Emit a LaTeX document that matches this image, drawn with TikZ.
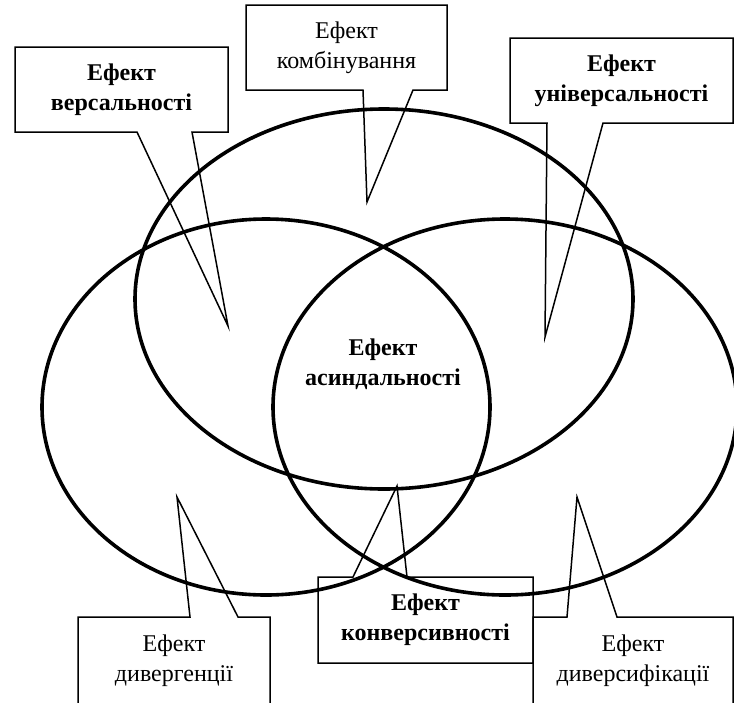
\documentclass[tikz,border=0pt]{standalone}
\usepackage{fontspec}
\setmainfont{Liberation Serif}
\usepackage{tikz}

\begin{document}
\begin{tikzpicture}[x=1pt, y=-1pt,
    ring/.style={line width=3.6pt},
    callout/.style={line width=1.5pt},
    label/.style={align=center, outer sep=0pt, inner sep=0pt,
        font=\fontsize{24}{30}\selectfont},
    boldlabel/.style={label, font=\fontsize{24}{30}\selectfont\bfseries}]
    \useasboundingbox (0,0) rectangle (734,702);
    \clip (0,0) rectangle (734,702);

    % text boxes
    \node[boldlabel, minimum width=213pt, minimum height=85pt] (vers) at (121.5,89.5) {Ефект\\версальності};
    \node[label, minimum width=201pt, minimum height=85pt] (komb) at (346.5,47.5) {Ефект\\комбінування};
    \node[boldlabel, minimum width=223pt, minimum height=85pt] (univ) at (621.5,80.5) {Ефект\\універсальності};
    \node[label, minimum width=192pt, minimum height=87pt] (diverg) at (174,660.5) {Ефект\\дивергенції};
    \node[boldlabel, minimum width=215pt, minimum height=86pt] (konv) at (425.5,620) {Ефект\\конверсивності};
    \node[label, minimum width=200pt, minimum height=87pt] (divers) at (633,660.5) {Ефект\\диверсифікації};
    \node[boldlabel] (asind) at (383,364) {Ефект\\асиндальності};

    % pointer tips
    \coordinate (versTip) at (228,326);
    \coordinate (kombTip) at (367,202);
    \coordinate (univTip) at (545,337);
    \coordinate (divergTip) at (177,497);
    \coordinate (konvTip) at (397,486);
    \coordinate (diversTip) at (577,497);

    % callouts
    \draw[callout] (vers.north west) -- (vers.north east) -- (vers.south east)
        -- (192,0 |- vers.south) -- (versTip) -- (137,0 |- vers.south) -- (vers.south west) -- cycle;
    \draw[callout] (komb.north west) -- (komb.north east) -- (komb.south east)
        -- (413,0 |- komb.south) -- (kombTip) -- (363,0 |- komb.south) -- (komb.south west) -- cycle;
    \draw[callout] (univ.north west) -- (univ.north east) -- (univ.south east)
        -- (603,0 |- univ.south) -- (univTip) -- (547,0 |- univ.south) -- (univ.south west) -- cycle;
    \draw[callout] (diverg.south west) -- (diverg.north west) -- (190,0 |- diverg.north)
        -- (divergTip) -- (238,0 |- diverg.north) -- (diverg.north east) -- (diverg.south east) -- cycle;
    \draw[callout] (konv.south west) -- (konv.north west) -- (353,0 |- konv.north)
        -- (konvTip) -- (407,0 |- konv.north) -- (konv.north east) -- (konv.south east) -- cycle;
    \draw[callout] (divers.south west) -- (divers.north west) -- (567,0 |- divers.north)
        -- (diversTip) -- (617,0 |- divers.north) -- (divers.north east) -- (divers.south east) -- cycle;

    % ellipses
    \draw[ring] (384,299) ellipse [x radius=249pt, y radius=190pt];
    \draw[ring] (266,407) ellipse [x radius=224pt, y radius=188pt];
    \draw[ring] (505,407) ellipse [x radius=232pt, y radius=188pt];
\end{tikzpicture}
\end{document}
